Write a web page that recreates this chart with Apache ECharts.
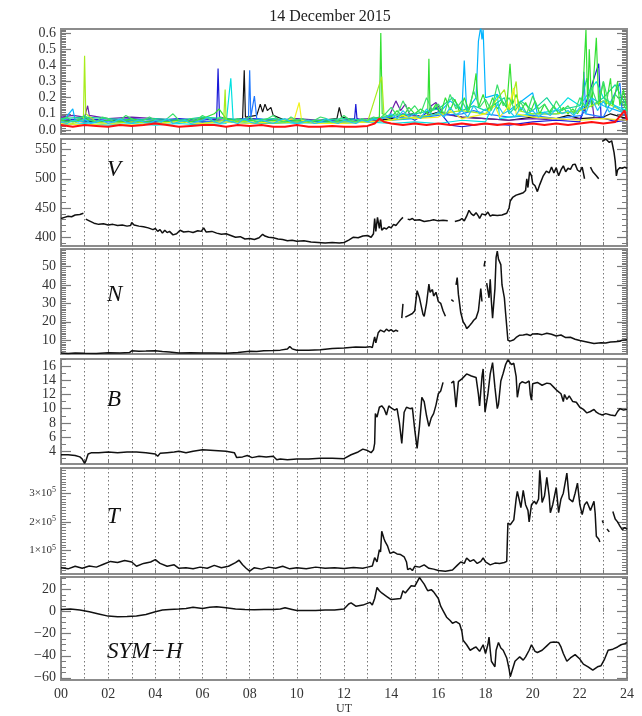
<!DOCTYPE html>
<html>
<head>
<meta charset="utf-8">
<title>14 December 2015</title>
<script src="https://cdn.jsdelivr.net/npm/echarts@6/dist/echarts.min.js"></script>
<style>
  html, body { margin: 0; padding: 0; background: #fff; }
  #chart { width: 642px; height: 716px; }
</style>
</head>
<body>
<div id="chart"></div>
<script>
// ---- data: [UT hour, value], '-' = gap ----

// top panel: one trace per colour
const topBlack = [[0,0.06],[1,0.05],[2,0.06],[3,0.05],[4,0.05],[5,0.06],[6,0.05],[7,0.06],[7.7,0.07],[7.77,0.37],[7.82,0.08],[8.3,0.09],[8.45,0.16],[8.55,0.11],[8.65,0.16],[8.75,0.12],[8.9,0.14],[9.0,0.09],[9.5,0.06],[10,0.05],[11,0.06],[11.7,0.07],[11.8,0.14],[11.9,0.08],[12.5,0.06],[13,0.05],[14,0.07],[14.9,0.1],[15.3,0.08],[16,0.11],[17,0.08],[18,0.07],[19,0.06],[20,0.08],[21,0.07],[21.5,0.09],[22,0.07],[23,0.08],[23.3,0.1],[24,0.07]];
const topPurple = [[0,0.08],[0.5,0.09],[1,0.08],[1.13,0.15],[1.2,0.09],[2,0.07],[3,0.08],[4,0.07],[5,0.06],[6,0.07],[7,0.06],[8,0.07],[9,0.06],[10,0.07],[11,0.06],[12,0.06],[13,0.07],[13.9,0.08],[14.2,0.18],[14.4,0.12],[14.6,0.16],[14.8,0.09],[15.5,0.08],[15.7,0.15],[15.9,0.17],[16.2,0.1],[17,0.08],[18,0.07],[19,0.06],[20,0.07],[21,0.06],[22,0.07],[22.5,0.2],[22.6,0.08],[23,0.07],[23.5,0.06],[24,0.07]];
const topDarkBlue = [[0,0.06],[1,0.07],[2,0.06],[3,0.07],[4,0.06],[5,0.07],[6,0.06],[6.6,0.07],[6.66,0.38],[6.72,0.08],[7.5,0.06],[8,0.07],[9,0.06],[10,0.06],[11,0.05],[12,0.06],[12.45,0.07],[12.5,0.16],[12.55,0.07],[13,0.05],[14,0.06],[14.5,0.1],[15,0.06],[15.9,0.14],[16.5,0.03],[17,0.02],[17.5,0.03],[18,0.04],[19,0.03],[20,0.05],[21,0.06],[22,0.05],[22.8,0.41],[22.9,0.08],[23.5,0.05],[24,0.06]];
const topBlue = [[0,0.05],[1,0.06],[2,0.05],[3,0.06],[4,0.05],[5,0.06],[6,0.05],[7,0.06],[7.95,0.07],[8.0,0.37],[8.05,0.08],[8.2,0.21],[8.3,0.07],[9,0.06],[10,0.05],[11,0.06],[12,0.05],[13,0.06],[14,0.08],[15,0.07],[16,0.09],[17,0.1],[17.5,0.12],[18,0.1],[19,0.08],[20,0.09],[21,0.07],[22.1,0.09],[22.17,0.36],[22.25,0.1],[23,0.08],[23.7,0.29],[23.8,0.1],[24,0.08]];
const topLightBlue = [[0,0.04],[0.5,0.13],[0.6,0.06],[1,0.05],[2,0.04],[3,0.05],[4,0.04],[5,0.05],[6,0.04],[7,0.05],[8,0.04],[9,0.04],[10,0.05],[11,0.04],[12,0.05],[13,0.05],[14,0.06],[15,0.07],[16,0.1],[16.5,0.18],[17,0.12],[17.1,0.43],[17.2,0.12],[17.6,0.2],[17.7,0.55],[17.8,0.64],[17.85,0.56],[17.9,0.62],[18,0.2],[18.5,0.22],[19,0.12],[20,0.23],[20.2,0.1],[21,0.1],[22,0.12],[22.5,0.2],[23,0.15],[24,0.1]];
const topCyan = [[0,0.03],[1,0.04],[2,0.03],[3,0.04],[4,0.03],[5,0.04],[6,0.03],[7,0.04],[7.2,0.32],[7.3,0.06],[8,0.04],[9,0.05],[10,0.04],[11,0.05],[12,0.04],[13,0.05],[14,0.04],[15,0.05],[16,0.04],[17,0.06],[18,0.05],[18.5,0.22],[18.6,0.07],[19,0.08],[20,0.1],[21,0.12],[21.5,0.2],[22,0.15],[22.7,0.3],[23,0.2],[23.5,0.15],[24,0.12]];
const topTeal = [[0,0.07],[1,0.08],[2,0.07],[3,0.06],[4,0.07],[5,0.06],[6,0.08],[7,0.07],[8,0.06],[9,0.07],[10,0.06],[11,0.06],[12,0.07],[13,0.06],[14,0.09],[15,0.1],[16,0.13],[16.6,0.2],[17,0.12],[17.5,0.15],[18,0.12],[18.8,0.2],[19,0.1],[19.5,0.18],[20,0.12],[20.6,0.2],[21,0.12],[22,0.15],[22.3,0.32],[22.5,0.15],[23,0.2],[23.5,0.28],[24,0.14]];
const topGreen = [[0,0.06],[0.5,0.05],[1,0.07],[1.5,0.05],[2,0.06],[2.5,0.05],[3,0.07],[3.5,0.05],[4,0.06],[4.5,0.05],[5,0.06],[5.5,0.05],[6,0.07],[6.5,0.1],[6.7,0.13],[7,0.07],[7.5,0.05],[8,0.06],[8.5,0.05],[9,0.06],[9.5,0.05],[10,0.06],[10.5,0.05],[11,0.06],[11.5,0.05],[12,0.06],[12.5,0.05],[13,0.06],[13.5,0.08],[13.56,0.6],[13.62,0.1],[14,0.08],[14.25,0.12],[14.5,0.08],[14.75,0.14],[15,0.1],[15.25,0.13],[15.55,0.1],[15.6,0.44],[15.65,0.1],[15.9,0.16],[16.1,0.1],[16.3,0.2],[16.5,0.12],[16.7,0.19],[16.9,0.11],[17.1,0.2],[17.3,0.12],[17.5,0.25],[17.6,0.35],[17.7,0.14],[17.9,0.22],[18.1,0.12],[18.3,0.2],[18.5,0.13],[18.7,0.18],[18.9,0.14],[19.04,0.41],[19.15,0.16],[19.3,0.22],[19.5,0.12],[19.7,0.17],[19.9,0.11],[20.1,0.18],[20.3,0.1],[20.5,0.16],[20.7,0.11],[20.9,0.15],[21.1,0.1],[21.3,0.14],[21.5,0.1],[21.7,0.13],[21.9,0.1],[22.1,0.15],[22.26,0.62],[22.33,0.15],[22.4,0.5],[22.5,0.14],[22.7,0.57],[22.8,0.15],[23,0.3],[23.1,0.14],[23.3,0.32],[23.4,0.15],[23.6,0.3],[23.7,0.15],[23.85,0.25],[24,0.12]];
const topLime = [[0,0.05],[0.5,0.04],[0.95,0.06],[1.0,0.46],[1.05,0.1],[1.5,0.05],[2,0.04],[3,0.05],[4,0.04],[5,0.05],[6,0.04],[6.9,0.06],[6.96,0.25],[7.0,0.06],[8,0.05],[9,0.04],[10,0.05],[11,0.04],[12,0.05],[13,0.05],[13.6,0.33],[13.7,0.08],[14,0.06],[15,0.08],[16,0.1],[17,0.12],[18,0.1],[18.8,0.25],[19,0.12],[19.3,0.3],[19.4,0.12],[20,0.1],[21,0.1],[22,0.12],[23,0.18],[24,0.1]];
const topYellow = [[0,0.04],[1,0.03],[2,0.04],[3,0.03],[4,0.04],[5,0.05],[6,0.04],[7,0.05],[8,0.04],[9,0.05],[9.9,0.07],[10.1,0.17],[10.2,0.06],[11,0.04],[12,0.04],[13,0.05],[14,0.06],[14.5,0.09],[15,0.07],[16,0.08],[16.5,0.12],[17,0.07],[18,0.1],[18.4,0.15],[18.6,0.08],[19,0.15],[19.2,0.26],[19.3,0.1],[20,0.08],[21,0.07],[22,0.06],[23,0.07],[24,0.06]];
const topRed = [[0,0.03],[0.5,0.02],[1,0.03],[1.5,0.025],[2,0.02],[2.5,0.03],[3,0.025],[3.5,0.03],[4,0.04],[4.5,0.03],[5,0.02],[5.5,0.025],[6,0.03],[6.5,0.03],[7,0.02],[7.5,0.03],[8,0.025],[8.5,0.03],[9,0.02],[9.5,0.02],[10,0.03],[10.5,0.02],[11,0.02],[11.5,0.025],[12,0.02],[12.5,0.02],[13,0.025],[13.3,0.04],[13.5,0.07],[13.7,0.05],[14,0.04],[14.5,0.03],[15,0.04],[15.5,0.03],[16,0.04],[16.5,0.03],[17,0.04],[17.5,0.03],[18,0.04],[18.5,0.03],[19,0.04],[19.5,0.03],[20,0.04],[20.5,0.03],[21,0.04],[21.5,0.03],[22,0.04],[22.5,0.05],[23,0.04],[23.5,0.05],[23.9,0.12],[24,0.06]];
// two more traces sampled every quarter hour from 00 UT
const topSeaGreen = [0.06,0.08,0.05,0.07,0.09,0.06,0.05,0.08,0.07,0.05,0.06,0.09,0.07,0.05,0.06,0.08,0.06,0.05,0.07,0.1,0.06,0.05,0.07,0.06,0.09,0.07,0.05,0.08,0.06,0.05,0.07,0.06,0.08,0.05,0.06,0.07,0.09,0.06,0.05,0.08,0.06,0.07,0.05,0.06,0.08,0.07,0.05,0.06,0.09,0.06,0.05,0.07,0.06,0.08,0.07,
  0.1,0.14,0.09,0.18,0.11,0.15,0.1,0.2,0.12,0.16,0.1,0.22,0.13,0.18,0.11,0.24,0.14,0.19,0.12,0.28,0.15,0.2,0.12,0.17,0.1,0.21,0.13,0.16,0.1,0.18,0.12,0.15,0.1,0.2,0.14,0.26,0.16,0.3,0.15,0.22,0.18,0.12];
const topSky = [0.05,0.04,0.06,0.05,0.07,0.04,0.05,0.06,0.04,0.05,0.07,0.05,0.04,0.06,0.05,0.04,0.06,0.05,0.07,0.04,0.05,0.06,0.04,0.05,0.06,0.08,0.05,0.04,0.06,0.05,0.04,0.07,0.05,0.04,0.06,0.05,0.04,0.06,0.07,0.05,0.04,0.05,0.06,0.04,0.05,0.07,0.05,0.04,0.06,0.05,0.04,0.06,0.05,0.07,0.06,
  0.08,0.1,0.07,0.12,0.08,0.1,0.07,0.13,0.09,0.11,0.08,0.14,0.09,0.12,0.08,0.15,0.1,0.13,0.09,0.16,0.1,0.12,0.08,0.14,0.1,0.12,0.08,0.11,0.09,0.13,0.1,0.12,0.09,0.14,0.1,0.2,0.12,0.18,0.11,0.15,0.12,0.1];
const quarterHours = topSeaGreen.map((v, k) => k * 0.25);

// solar wind speed V
const speedV = [[0,432],[0.15,434],[0.3,436],[0.45,435],[0.6,438],[0.8,439],[0.95,441],[1.0,'-'],[1.05,431],[1.2,428],[1.4,424],[1.6,422],[1.8,423],[2.0,421],[2.2,422],[2.4,420],[2.6,421],[2.8,419],[2.95,420],[3.0,425],[3.1,421],[3.3,419],[3.5,418],[3.7,416],[3.9,413],[4.0,415],[4.1,410],[4.2,413],[4.3,407],[4.4,412],[4.5,408],[4.6,410],[4.75,404],[4.9,406],[5.05,412],[5.2,409],[5.4,410],[5.6,408],[5.8,411],[5.95,410],[6.05,416],[6.15,409],[6.4,410],[6.6,407],[6.8,405],[7.0,406],[7.2,403],[7.4,400],[7.6,401],[7.8,397],[8.0,398],[8.2,396],[8.4,399],[8.55,405],[8.65,402],[8.8,400],[9.0,399],[9.2,397],[9.4,396],[9.6,394],[9.8,395],[10.0,393],[10.3,394],[10.6,392],[10.9,391],[11.2,390],[11.5,391],[11.8,390],[12.0,391],[12.2,395],[12.4,400],[12.6,399],[12.8,402],[13.0,403],[13.15,400],[13.25,406],[13.3,432],[13.35,410],[13.42,434],[13.5,415],[13.55,430],[13.6,412],[13.7,416],[13.8,414],[13.9,418],[14.0,416],[14.1,422],[14.2,420],[14.3,425],[14.4,430],[14.5,434],[14.55,'-'],[14.7,431],[14.8,430],[14.9,432],[15.0,429],[15.2,430],[15.4,427],[15.6,428],[15.8,430],[16.0,428],[16.2,429],[16.4,428],[16.5,'-'],[16.7,427],[16.9,429],[17.0,432],[17.1,428],[17.2,436],[17.3,446],[17.4,440],[17.5,437],[17.6,442],[17.7,436],[17.75,432],[17.85,440],[18.0,438],[18.1,443],[18.2,436],[18.3,438],[18.5,437],[18.7,438],[18.9,441],[19.0,450],[19.05,462],[19.15,468],[19.3,472],[19.45,474],[19.6,476],[19.7,480],[19.75,500],[19.8,485],[19.87,512],[19.95,505],[20.0,492],[20.1,488],[20.2,478],[20.3,490],[20.45,505],[20.58,513],[20.7,510],[20.8,520],[20.9,510],[21.0,519],[21.1,505],[21.2,515],[21.3,522],[21.4,512],[21.5,518],[21.6,516],[21.7,524],[21.8,525],[21.9,515],[22.0,512],[22.1,520],[22.2,500],[22.25,'-'],[22.45,520],[22.55,512],[22.7,505],[22.8,500],[22.85,'-'],[22.95,564],[23.1,568],[23.25,562],[23.35,565],[23.45,545],[23.5,530],[23.55,505],[23.6,515],[23.7,519],[23.8,518],[23.9,520],[24,518]];

// density N
const densityN = [[0,3],[0.3,2.8],[0.6,3.1],[1.0,2.9],[1.5,2.8],[2.0,3.2],[2.5,3.0],[2.9,3.3],[3.0,4.2],[3.3,4.0],[3.6,4.1],[4.0,4.3],[4.3,3.9],[4.6,3.6],[5.0,3.1],[5.5,3.2],[6.0,3.0],[6.5,3.1],[7.0,2.9],[7.5,3.3],[8.0,4.0],[8.3,3.8],[8.6,4.2],[9.0,4.4],[9.3,4.6],[9.6,5.2],[9.7,6.6],[9.8,5.3],[10.0,4.5],[10.5,4.6],[11.0,4.8],[11.5,5.5],[12.0,5.8],[12.5,6.3],[12.9,6.2],[13.1,6.5],[13.2,6.0],[13.3,11.8],[13.35,8.5],[13.45,14],[13.55,15.5],[13.7,14.5],[13.8,16],[13.9,15],[14.0,15.7],[14.1,14.6],[14.2,15.4],[14.3,14.8],[14.4,'-'],[14.45,22],[14.5,29.7],[14.55,'-'],[14.6,22.5],[14.75,23.5],[14.9,24.5],[15.0,26],[15.1,36.9],[15.2,33],[15.3,27],[15.35,24],[15.4,22.9],[15.5,30],[15.6,40.5],[15.65,36],[15.75,37.5],[15.8,34],[15.9,36],[16.0,31],[16.1,30],[16.2,26],[16.3,23],[16.4,'-'],[16.55,32],[16.65,31],[16.7,'-'],[16.75,40],[16.8,44],[16.85,35],[16.95,25],[17.05,20],[17.15,18],[17.2,16.3],[17.3,17.5],[17.4,19],[17.5,20.8],[17.6,22],[17.7,26],[17.8,38],[17.85,31],[17.9,'-'],[17.94,50],[17.98,53],[18.0,'-'],[18.05,41],[18.15,33],[18.2,43],[18.25,31],[18.3,22],[18.4,38],[18.45,55],[18.5,58.4],[18.55,54],[18.65,51],[18.7,40],[18.8,33],[18.85,25],[18.95,10],[19.05,9.5],[19.2,10.2],[19.3,11.5],[19.45,12.7],[19.6,12.8],[19.75,13.2],[19.9,12.5],[20.0,13.4],[20.2,13.5],[20.4,13],[20.6,13.8],[20.8,13.2],[21.0,12.3],[21.2,12.8],[21.4,11.4],[21.6,11.6],[21.8,10.5],[22.0,9.8],[22.3,9.0],[22.6,8.2],[22.9,8.6],[23.1,8.5],[23.3,9.0],[23.5,9.2],[23.7,9.4],[23.8,10],[24,10.2]];

// field magnitude B
const fieldB = [[0,3.5],[0.3,3.5],[0.6,3.4],[0.8,3.2],[0.9,2.9],[1.0,2.3],[1.05,2.6],[1.15,3.6],[1.3,3.8],[1.6,3.8],[2.0,3.9],[2.4,3.8],[2.8,3.9],[3.2,3.9],[3.6,3.8],[4.0,3.6],[4.1,3.3],[4.2,3.7],[4.5,3.8],[4.8,3.9],[5.0,4.0],[5.3,3.8],[5.6,4.0],[6.0,4.2],[6.5,4.1],[7.0,4.0],[7.35,3.8],[7.45,3.1],[7.7,3.2],[7.9,3.4],[8.1,3.1],[8.4,3.3],[8.7,3.2],[9.0,3.3],[9.15,2.8],[9.3,2.9],[9.6,2.8],[10,2.9],[10.5,2.9],[11,3.0],[11.5,3.0],[12.0,2.95],[12.3,3.5],[12.6,3.9],[12.8,4.3],[13.0,4.1],[13.15,3.8],[13.25,4.2],[13.3,5.1],[13.33,9.3],[13.4,8.8],[13.5,10.2],[13.6,10.4],[13.7,10.0],[13.8,9.1],[13.9,10.4],[14.0,10.1],[14.15,9.8],[14.25,10],[14.35,8],[14.45,5.1],[14.55,9.5],[14.65,10.2],[14.8,10],[14.9,10.1],[15.0,7],[15.1,4.4],[15.2,7.5],[15.3,11.6],[15.4,11.0],[15.5,9],[15.6,7.5],[15.7,8.7],[15.8,9.3],[15.9,10.5],[16.0,12.1],[16.1,12.5],[16.2,13.7],[16.25,'-'],[16.55,13.6],[16.65,13.9],[16.75,10.2],[16.85,13.8],[17.0,14.2],[17.2,14.9],[17.4,14.6],[17.6,14.4],[17.7,12],[17.75,10.4],[17.85,14.5],[17.9,15.6],[17.98,9.5],[18.1,12],[18.2,14.9],[18.3,16.5],[18.4,13],[18.5,10],[18.55,10.6],[18.65,13.9],[18.75,15.0],[18.85,16.2],[18.95,16.9],[19.1,16.2],[19.2,16.4],[19.3,14.5],[19.35,11.6],[19.45,13.5],[19.55,13.8],[19.7,13.6],[19.85,13.9],[19.9,12.0],[19.95,11.2],[20.0,13.5],[20.2,13.7],[20.4,13.3],[20.6,13.6],[20.75,13.5],[20.9,13.0],[21.05,12.5],[21.2,12.1],[21.3,11],[21.35,12],[21.45,11.3],[21.55,11.8],[21.7,11.0],[21.85,10.9],[22.0,10.2],[22.15,9.9],[22.3,9.4],[22.45,9.6],[22.6,9.9],[22.7,9.5],[22.8,9.3],[22.95,9.1],[23.1,9.3],[23.3,9.1],[23.5,9.0],[23.6,9.6],[23.7,10.0],[23.85,9.8],[24,9.9]];

// temperature T (K)
const tempT = [[0,40000],[0.3,36000],[0.6,45000],[0.9,38000],[1.2,46000],[1.5,42000],[1.8,52000],[2.1,62000],[2.4,58000],[2.7,65000],[3.0,60000],[3.2,45000],[3.5,55000],[3.8,60000],[4.0,68000],[4.2,55000],[4.5,45000],[4.8,50000],[5.0,38000],[5.3,40000],[5.6,36000],[5.9,42000],[6.2,38000],[6.5,48000],[6.8,40000],[7.1,45000],[7.4,58000],[7.55,66000],[7.7,50000],[7.85,38000],[8.0,28000],[8.2,40000],[8.5,35000],[8.8,42000],[9.1,38000],[9.4,45000],[9.7,36000],[10.0,40000],[10.4,36000],[10.8,42000],[11.2,38000],[11.6,40000],[12.0,37000],[12.4,41000],[12.8,38000],[13.0,42000],[13.2,46000],[13.3,75000],[13.4,60000],[13.5,103000],[13.55,95000],[13.6,167000],[13.7,140000],[13.75,130000],[13.85,115000],[13.95,90000],[14.1,95000],[14.25,88000],[14.4,86000],[14.55,78000],[14.65,60000],[14.7,33000],[14.8,38000],[14.9,30000],[15.0,45000],[15.2,42000],[15.4,50000],[15.6,38000],[15.8,35000],[16.0,30000],[16.3,28000],[16.6,32000],[16.8,48000],[16.95,60000],[17.1,55000],[17.2,74000],[17.35,62000],[17.5,68000],[17.65,55000],[17.8,62000],[17.9,74000],[18.0,60000],[18.2,50000],[18.4,56000],[18.6,55000],[18.8,58000],[18.9,62000],[18.95,196000],[19.05,190000],[19.2,207000],[19.3,280000],[19.35,306000],[19.45,270000],[19.5,250000],[19.6,310000],[19.7,260000],[19.8,240000],[19.85,200000],[19.95,260000],[20.07,272000],[20.15,262000],[20.25,280000],[20.3,380000],[20.35,330000],[20.4,268000],[20.5,290000],[20.6,355000],[20.7,290000],[20.75,232000],[20.85,260000],[21.0,320000],[21.1,232000],[21.2,280000],[21.3,300000],[21.45,370000],[21.55,280000],[21.7,270000],[21.8,300000],[21.9,335000],[22.0,260000],[22.1,225000],[22.2,260000],[22.3,270000],[22.45,240000],[22.6,272000],[22.65,230000],[22.7,150000],[22.8,140000],[22.85,130000],[22.9,'-'],[22.95,205000],[23.0,195000],[23.05,'-'],[23.15,175000],[23.25,165000],[23.3,'-'],[23.4,236000],[23.5,210000],[23.6,200000],[23.7,185000],[23.8,173000],[23.9,180000],[24,175000]];

// SYM-H (nT)
const symH = [[0,2],[0.4,2.5],[0.8,1.5],[1.2,0],[1.6,-2],[2.0,-4],[2.4,-4.5],[2.8,-4.3],[3.2,-4],[3.6,-2.5],[4.0,0],[4.3,1.5],[4.6,2],[5.0,2.5],[5.3,3],[5.6,4],[6.0,3],[6.3,4],[6.6,4.5],[7.0,3.5],[7.4,2.5],[7.8,2],[8.2,1.8],[8.6,2],[9.0,2],[9.3,2.5],[9.5,3.5],[9.8,2],[10.0,1],[10.4,1],[10.8,1.2],[11.2,1.5],[11.6,1.6],[12.0,2.5],[12.2,7],[12.3,8],[12.5,5],[12.8,6],[13.1,8.5],[13.2,6],[13.3,12],[13.4,22],[13.5,19],[13.6,17],[13.8,14],[14.0,11],[14.2,11.5],[14.4,12],[14.5,19],[14.6,17],[14.85,23.5],[15.0,23],[15.1,27],[15.2,31],[15.3,28],[15.4,25],[15.5,21],[15.55,19],[15.7,20],[15.8,18],[16.0,12],[16.1,5],[16.2,1],[16.35,-5],[16.5,-8],[16.6,-10.5],[16.75,-9],[16.9,-11],[17.0,-18],[17.05,-26],[17.2,-30],[17.35,-35],[17.5,-33],[17.6,-32],[17.75,-36],[17.9,-30],[18.0,-38],[18.1,-30],[18.15,-23],[18.2,-35],[18.25,-45],[18.4,-50],[18.45,-35],[18.55,-28],[18.65,-33],[18.75,-35],[18.9,-42],[19.0,-52],[19.05,-59],[19.15,-52],[19.25,-45],[19.35,-43],[19.45,-41],[19.6,-44],[19.7,-41],[19.85,-35],[19.95,-30],[20.1,-36],[20.2,-37],[20.4,-35],[20.6,-31],[20.75,-28],[20.9,-27.6],[21.1,-28],[21.2,-32],[21.3,-38],[21.45,-45],[21.6,-42],[21.8,-39],[22.0,-43],[22.15,-47.6],[22.35,-50],[22.55,-53],[22.75,-50],[22.9,-49],[23.05,-43],[23.2,-35],[23.4,-34],[23.6,-32],[23.75,-30],[23.9,-29],[24,-28]];

// tick labels
const topTicks = [0, 0.1, 0.2, 0.3, 0.4, 0.5, 0.6];
const vTicks = [400, 450, 500, 550];
const nTicks = [10, 20, 30, 40, 50];
const bTicks = [4, 6, 8, 10, 12, 14, 16];
const tTicks = [100000, 200000, 300000];
const symTicks = [-60, -40, -20, 0, 20];
const hourLabels = ['00','02','04','06','08','10','12','14','16','18','20','22','24'];

// minor tick positions
function steps(from, to, step) {
  const out = [];
  for (let k = Math.round(from / step); k * step <= to + 1e-9; k++) out.push(+(k * step).toFixed(6));
  return out;
}

const SERIF = '"Liberation Serif", "DejaVu Serif", serif';
const FRAME = '#8c8c8c';
const TICK = '#7a7a7a';

const topColors = ['#111111', '#6a1fa8', '#1a1ad8', '#1f78ff', '#00b4ff', '#00e0e0', '#12d49a', '#33e033', '#a8ec1c', '#f2f21e', '#3ce06a', '#22c4f0', '#ff1010'];
const topTraces = [topBlack, topPurple, topDarkBlue, topBlue, topLightBlue, topCyan, topTeal, topGreen, topLime, topYellow,
  topSeaGreen.map((v, k) => [quarterHours[k], v]), topSky.map((v, k) => [quarterHours[k], v]), topRed];

const panels = [
  { top: 29, height: 105, min: -0.025, max: 0.625, major: topTicks, minor: steps(-0.02, 0.62, 0.01), fmt: v => v.toFixed(1) },
  { top: 139, height: 107, min: 385, max: 568, major: vTicks, minor: steps(390, 560, 10), fmt: v => String(v), data: speedV, label: 'V', labelTop: 158 },
  { top: 249, height: 105, min: 2.5, max: 59.5, major: nTicks, minor: steps(3, 59, 1), fmt: v => String(v), data: densityN, label: 'N', labelTop: 283 },
  { top: 359, height: 105, min: 2.2, max: 17, major: bTicks, minor: steps(3, 17, 1), fmt: v => String(v), data: fieldB, label: 'B', labelTop: 388 },
  { top: 468, height: 106, min: 18000, max: 388000, major: tTicks, minor: steps(20000, 380000, 10000), fmt: v => '{n|' + (v / 1e5) + '×10}{s|5}', data: tempT, label: 'T', labelTop: 505 },
  { top: 577, height: 107, min: -62, max: 31.5, major: symTicks, minor: steps(-60, 30, 5), fmt: v => String(v).replace('-', '−'), data: symH, label: 'SYM−H', labelTop: 640 }
];

const grid = [], xAxis = [], yAxis = [], series = [], graphic = [];

panels.forEach((p, i) => {
  const last = i === panels.length - 1;
  grid.push({ left: 61, right: 15, top: p.top, height: p.height, show: true, borderColor: FRAME, borderWidth: 2, backgroundColor: '#fff' });

  xAxis.push({
    type: 'value', gridIndex: i, min: 0, max: 24, interval: 1,
    axisLine: { show: false },
    axisTick: { show: true, inside: true, length: 4, lineStyle: { color: TICK } },
    axisLabel: {
      show: last, margin: 7, color: '#333', fontFamily: SERIF, fontSize: 14,
      formatter: v => (v % 2 === 0 ? hourLabels[v / 2] : '')
    },
    splitLine: { show: i > 0, lineStyle: { color: '#777', type: [1.5, 2.5], width: 1 } },
    name: last ? 'UT' : '', nameLocation: 'middle', nameGap: 23,
    nameTextStyle: { color: '#333', fontFamily: SERIF, fontSize: 12 }
  });
  if (i === 0) {
    xAxis.push({
      type: 'value', gridIndex: 0, min: 0, max: 24, interval: 1, position: 'top',
      axisLine: { show: false }, axisLabel: { show: false }, splitLine: { show: false },
      axisTick: { show: true, inside: true, length: 4, lineStyle: { color: TICK } }
    });
  }

  const first = yAxis.length;
  ['left', 'right'].forEach(pos => {
    yAxis.push({
      type: 'value', gridIndex: i, min: p.min, max: p.max, position: pos,
      axisLine: { show: false }, splitLine: { show: false },
      axisTick: { show: true, inside: true, length: 10, customValues: p.major, lineStyle: { color: TICK, width: 1.2 } },
      axisLabel: {
        show: pos === 'left', customValues: p.major, margin: 5, color: '#333', fontFamily: SERIF, fontSize: 14,
        formatter: p.fmt,
        rich: {
          n: { fontFamily: SERIF, fontSize: 11, color: '#333' },
          s: { fontFamily: SERIF, fontSize: 8, color: '#333', verticalAlign: 'top', padding: [0, 0, 6, 0] }
        }
      }
    });
    yAxis.push({
      type: 'value', gridIndex: i, min: p.min, max: p.max, position: pos,
      axisLine: { show: false }, splitLine: { show: false }, axisLabel: { show: false },
      axisTick: { show: true, inside: true, length: 5, customValues: p.minor, lineStyle: { color: TICK } }
    });
  });

  if (i === 0) {
    topTraces.forEach((tr, k) => {
      series.push({
        type: 'line', xAxisIndex: 0, yAxisIndex: first, data: tr, showSymbol: false,
        lineStyle: { color: topColors[k], width: k === topTraces.length - 1 ? 2 : 1.2 }
      });
    });
  } else {
    series.push({
      type: 'line', xAxisIndex: i + 1, yAxisIndex: first, data: p.data, showSymbol: false,
      connectNulls: false, lineStyle: { color: '#111', width: 1.5 }
    });
    graphic.push({
      type: 'text', left: 107, top: p.labelTop,
      style: { text: p.label, font: 'italic 23px ' + SERIF, fill: '#111' }
    });
  }
});

graphic.push({
  type: 'text', x: 330, y: 17,
  style: { text: '14 December 2015', font: '16px ' + SERIF, fill: '#222', align: 'center', verticalAlign: 'middle', textAlign: 'center', textVerticalAlign: 'middle' }
});

const chart = echarts.init(document.getElementById('chart'));
chart.setOption({
  animation: false,
  backgroundColor: '#fff',
  grid, xAxis, yAxis, series, graphic
});
</script>
</body>
</html>
